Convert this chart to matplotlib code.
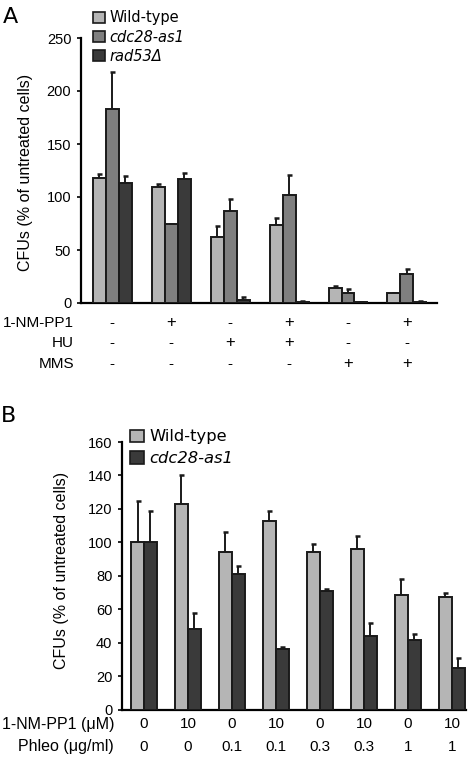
import matplotlib
matplotlib.use("Agg")
import matplotlib.pyplot as plt
import matplotlib.transforms as mtransforms
from matplotlib.patches import Patch
import numpy as np

# ---------------- Data: panel A ----------------
a_series = ["Wild-type", "cdc28-as1", "rad53\u0394"]
a_wt = [118, 109, 62, 73.5, 14, 9]
a_wt_err = [4, 3, 11, 6.5, 2.5, 0]
a_cdc = [183, 75, 87, 102, 9, 27]
a_cdc_err = [35, 0, 11, 19, 4.5, 5]
a_rad = [113, 117, 3, 1.2, 1, 1.2]
a_rad_err = [7, 6, 2.5, 0.5, 0.3, 0.5]
a_nmpp1 = ["-", "+", "-", "+", "-", "+"]
a_hu = ["-", "-", "+", "+", "-", "-"]
a_mms = ["-", "-", "-", "-", "+", "+"]
a_yticks = [0, 50, 100, 150, 200, 250]

# ---------------- Data: panel B ----------------
b_series = ["Wild-type", "cdc28-as1"]
b_wt = [100, 123, 94, 113, 94, 96, 68.7, 67.3]
b_wt_err = [25, 17, 12, 6, 4.7, 8, 9.3, 2.1]
b_cdc = [100, 48, 81, 36, 70.9, 43.8, 41.4, 24.7]
b_cdc_err = [19, 10, 5, 1.4, 0.9, 7.9, 4, 6.1]
b_nmpp1 = ["0", "10", "0", "10", "0", "10", "0", "10"]
b_phleo = ["0", "0", "0.1", "0.1", "0.3", "0.3", "1", "1"]
b_yticks = [0, 20, 40, 60, 80, 100, 120, 140, 160]

c_light = "#b5b5b5"
c_mid = "#7f7f7f"
c_dark = "#3a3a3a"

W, H = 475, 761
fig = plt.figure(figsize=(W / 100, H / 100), dpi=100)

def fy(py):
    return 1 - py / H

def fx(px):
    return px / W

tick_font = "Liberation Sans"
lab_font = "DejaVu Sans"

def style_axes(ax, fs):
    for s in ["top", "right"]:
        ax.spines[s].set_visible(False)
    ax.spines["left"].set_linewidth(1.6)
    ax.spines["bottom"].set_linewidth(1.6)
    ax.tick_params(axis="x", bottom=False, labelbottom=False)
    ax.tick_params(axis="y", length=3, width=1.2, direction="out", pad=4,
                   labelsize=fs)
    for t in ax.get_yticklabels():
        t.set_fontfamily(tick_font)

def bars(ax, x, vals, errs, color, width):
    ax.bar(x, vals, width=width, color=color, edgecolor="#1a1a1a",
           linewidth=1.4, zorder=3)
    lo = np.zeros(len(vals))
    ax.errorbar(x, vals, yerr=[lo, errs], fmt="none", ecolor="#1a1a1a",
                elinewidth=1.4, capsize=1.8, capthick=1.8, zorder=2)

# ---------------- Panel A ----------------
axA = fig.add_axes([fx(81), fy(303), fx(437) - fx(81), fy(38) - fy(303)])
xa = np.arange(len(a_wt))
wa = 0.22
bars(axA, xa - wa, a_wt, a_wt_err, c_light, wa)
bars(axA, xa, a_cdc, a_cdc_err, c_mid, wa)
bars(axA, xa + wa, a_rad, a_rad_err, c_dark, wa)
axA.set_xlim(-0.53, 5.51)
axA.set_ylim(0, 250)
axA.set_yticks(a_yticks)
style_axes(axA, 10.5)
axA.set_ylabel("CFUs (% of untreated cells)", fontfamily=tick_font,
               fontsize=11.5)
axA.yaxis.set_label_coords((33 - 81) / (437 - 81), 0.494)

trA = mtransforms.blended_transform_factory(axA.transData, fig.transFigure)
rowsA = [("1-NM-PP1", a_nmpp1, 323), ("HU", a_hu, 343), ("MMS", a_mms, 364)]
for name, vals, py in rowsA:
    fig.text(fx(74), fy(py), name, ha="right", va="center",
             fontfamily=tick_font, fontsize=11)
    for xi, v in zip(xa, vals):
        axA.text(xi, fy(py), v, transform=trA, ha="center", va="center",
                 fontfamily=tick_font, fontsize=12 if v == "+" else 11)

handlesA = [Patch(facecolor=c, edgecolor="#1a1a1a", linewidth=1.2)
            for c in (c_light, c_mid, c_dark)]
legA = fig.legend(handlesA, a_series, loc="upper left",
                  bbox_to_anchor=(fx(83), fy(0)), frameon=False,
                  prop={"family": lab_font, "size": 10.5},
                  handlelength=0.8, handleheight=0.8, handletextpad=0.3,
                  labelspacing=0.3, borderpad=0.2)
for i, t in enumerate(legA.get_texts()):
    if i > 0:
        t.set_fontstyle("italic")

fig.text(fx(3), fy(17), "A", fontfamily=lab_font, fontsize=16,
         ha="left", va="center")

# ---------------- Panel B ----------------
axB = fig.add_axes([fx(122), fy(709.5), fx(466) - fx(122),
                    fy(442) - fy(709.5)])
xb = np.arange(len(b_wt))
wb = 0.295
bars(axB, xb - wb / 2, b_wt, b_wt_err, c_light, wb)
bars(axB, xb + wb / 2, b_cdc, b_cdc_err, c_dark, wb)
axB.set_xlim(-0.5, 7.32)
axB.set_ylim(0, 160)
axB.set_yticks(b_yticks)
style_axes(axB, 10.5)
axB.set_ylabel("CFUs (% of untreated cells)", fontfamily=tick_font,
               fontsize=11.5)
axB.yaxis.set_label_coords((69 - 122) / (466 - 122), 0.518)

trB = mtransforms.blended_transform_factory(axB.transData, fig.transFigure)
rowsB = [("1-NM-PP1 (\u03bcM)", b_nmpp1, 724), ("Phleo (\u03bcg/ml)", b_phleo, 747)]
for name, vals, py in rowsB:
    fig.text(fx(114), fy(py), name, ha="right", va="center",
             fontfamily=tick_font, fontsize=11.5)
    for xi, v in zip(xb, vals):
        axB.text(xi, fy(py), v, transform=trB, ha="center", va="center",
                 fontfamily=tick_font, fontsize=11)

handlesB = [Patch(facecolor=c, edgecolor="#1a1a1a", linewidth=1.2)
            for c in (c_light, c_dark)]
legB = fig.legend(handlesB, b_series, loc="upper left",
                  bbox_to_anchor=(fx(119), fy(418)), frameon=False,
                  prop={"family": lab_font, "size": 11.8},
                  handlelength=0.8, handleheight=0.8, handletextpad=0.35,
                  labelspacing=0.4, borderpad=0.2)
for i, t in enumerate(legB.get_texts()):
    if i > 0:
        t.set_fontstyle("italic")

fig.text(fx(1), fy(416), "B", fontfamily=lab_font, fontsize=16,
         ha="left", va="center")

fig.savefig("out.png", dpi=100)
